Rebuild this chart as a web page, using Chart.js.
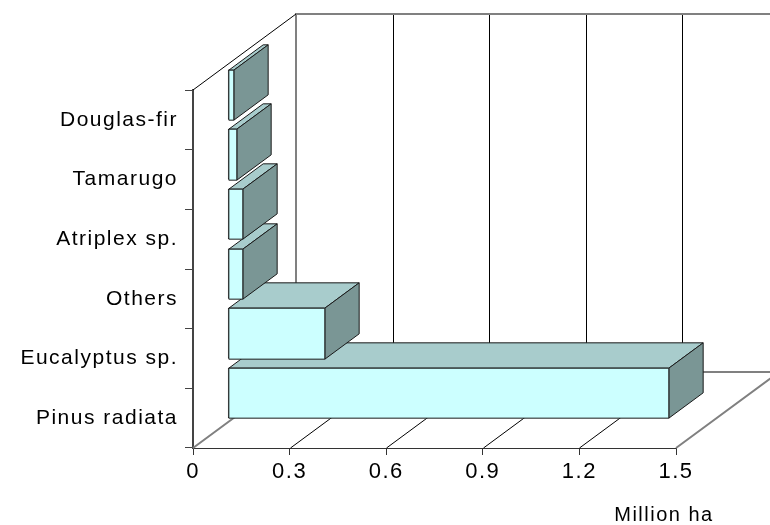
<!DOCTYPE html>
<html>
<head>
<meta charset="utf-8">
<script src="https://cdn.jsdelivr.net/npm/chart.js@4"></script>
<style>
  html, body { margin: 0; padding: 0; background: #fff; }
  #wrap { width: 770px; height: 525px; }
</style>
</head>
<body>
<div id="wrap"><canvas id="chart"></canvas></div>
<script>
// plantation area by species, bottom to top
const species = ["Pinus radiata", "Eucalyptus sp.", "Others", "Atriplex sp.", "Tamarugo", "Douglas-fir"];
const areaMillionHa = [1.37, 0.30, 0.048, 0.047, 0.028, 0.019];
const xTicks = [0, 0.3, 0.6, 0.9, 1.2, 1.5];
const unitLabel = "Million ha";

// 3D box depth in pixels, bars sit in the middle third of it
const DEPTH_X = 103, DEPTH_Y = -76;
const BAR_SHIFT = 1 / 3, BAR_DEPTH = 1 / 3;

const FONT = "'Liberation Sans', Arial, sans-serif";
const SPACING = '1.5px';

function poly(ctx, pts, fill) {
  ctx.beginPath();
  ctx.moveTo(pts[0][0], pts[0][1]);
  for (let i = 1; i < pts.length; i++) ctx.lineTo(pts[i][0], pts[i][1]);
  ctx.closePath();
  ctx.fillStyle = fill;
  ctx.fill();
  ctx.stroke();
}

// letter spacing has to be set again whenever the canvas gets reset
const spacing = {
  id: 'spacing',
  beforeLayout(chart) { chart.ctx.letterSpacing = SPACING; },
  beforeDraw(chart) { chart.ctx.letterSpacing = SPACING; }
};

// back wall, floor and left wall
const walls = {
  id: 'walls',
  beforeDatasetsDraw(chart) {
    const ctx = chart.ctx, a = chart.chartArea, x = chart.scales.x;
    const dx = DEPTH_X, dy = DEPTH_Y;
    ctx.save();
    ctx.strokeStyle = '#000';
    ctx.lineWidth = 1;
    xTicks.slice(1, -1).forEach(t => {
      const px = Math.round(x.getPixelForValue(t)) + 0.5;
      ctx.beginPath();
      ctx.moveTo(px, a.bottom);
      ctx.lineTo(px + dx, a.bottom + dy);
      ctx.lineTo(px + dx, a.top + dy);
      ctx.stroke();
    });
    ctx.strokeStyle = '#808080';
    ctx.lineWidth = 2;
    ctx.beginPath();
    ctx.moveTo(a.left, a.bottom);
    ctx.lineTo(a.left + dx, a.bottom + dy);
    ctx.lineTo(a.right + dx, a.bottom + dy);
    ctx.moveTo(a.right, a.bottom);
    ctx.lineTo(a.right + dx, a.bottom + dy);
    ctx.moveTo(a.left + dx, a.bottom + dy);
    ctx.lineTo(a.left + dx, a.top + dy);
    ctx.lineTo(a.right + dx, a.top + dy);
    ctx.stroke();
    ctx.strokeStyle = '#000';
    ctx.lineWidth = 1;
    ctx.beginPath();
    ctx.moveTo(a.left, a.top);
    ctx.lineTo(a.left + dx, a.top + dy);
    ctx.stroke();
    ctx.restore();
  }
};

// shift the bars into the box and give them a top and a side
const bars3d = {
  id: 'bars3d',
  beforeDatasetsDraw(chart) {
    chart.ctx.save();
    chart.ctx.translate(DEPTH_X * BAR_SHIFT, DEPTH_Y * BAR_SHIFT);
  },
  afterDatasetsDraw(chart) {
    const ctx = chart.ctx;
    ctx.restore();
    const ddx = DEPTH_X * BAR_DEPTH, ddy = DEPTH_Y * BAR_DEPTH;
    ctx.save();
    ctx.translate(DEPTH_X * BAR_SHIFT, DEPTH_Y * BAR_SHIFT);
    ctx.lineWidth = 1;
    ctx.strokeStyle = '#1a1a1a';
    ctx.lineJoin = 'round';
    chart.getDatasetMeta(0).data.forEach(bar => {
      const p = bar.getProps(['x', 'y', 'base', 'height'], true);
      const l = Math.round(p.base) + 0.5, r = Math.round(p.x) + 0.5;
      const t = Math.round(p.y - p.height / 2) + 0.5, b = Math.round(p.y + p.height / 2) + 0.5;
      poly(ctx, [[l, t], [r, t], [r + ddx, t + ddy], [l + ddx, t + ddy]], '#a8cccc');
      poly(ctx, [[r, t], [r + ddx, t + ddy], [r + ddx, b + ddy], [r, b]], '#7a9695');
      poly(ctx, [[l, t], [r, t], [r, b], [l, b]], '#ccffff');
    });
    ctx.restore();
  },
  afterDraw(chart) {
    const ctx = chart.ctx;
    ctx.save();
    ctx.font = '20px ' + FONT;
    ctx.fillStyle = '#000';
    ctx.textAlign = 'center';
    ctx.textBaseline = 'alphabetic';
    ctx.fillText(unitLabel, 664, 521);
    ctx.restore();
  }
};

new Chart(document.getElementById('chart'), {
  type: 'bar',
  data: {
    labels: species,
    datasets: [{
      data: areaMillionHa,
      backgroundColor: '#ccffff',
      borderColor: '#1a1a1a',
      borderWidth: 1,
      borderSkipped: false,
      categoryPercentage: 1,
      barPercentage: 0.84,
      clip: false
    }]
  },
  options: {
    indexAxis: 'y',
    responsive: true,
    maintainAspectRatio: false,
    animation: false,
    layout: { padding: { top: 90, right: 94, bottom: 0, left: 0 } },
    plugins: {
      legend: { display: false },
      tooltip: { enabled: false }
    },
    scales: {
      x: {
        type: 'linear',
        min: 0,
        max: 1.5,
        afterBuildTicks: s => { s.ticks = xTicks.map(v => ({ value: v })); },
        afterFit: s => { s.height = 77; },
        ticks: {
          font: { family: FONT, size: 22 },
          color: '#000',
          padding: 4,
          maxRotation: 0,
          callback: v => String(v)
        },
        grid: { drawOnChartArea: false, tickLength: 7, color: '#333' },
        border: { color: '#333', width: 1 }
      },
      y: {
        reverse: true,
        afterFit: s => { s.width = 193; },
        ticks: {
          font: { family: FONT, size: 21 },
          color: '#000',
          padding: 7
        },
        grid: { drawOnChartArea: false, tickLength: 8, offset: true, color: '#444' },
        border: { color: '#444', width: 2 }
      }
    }
  },
  plugins: [spacing, walls, bars3d]
});
</script>
</body>
</html>
